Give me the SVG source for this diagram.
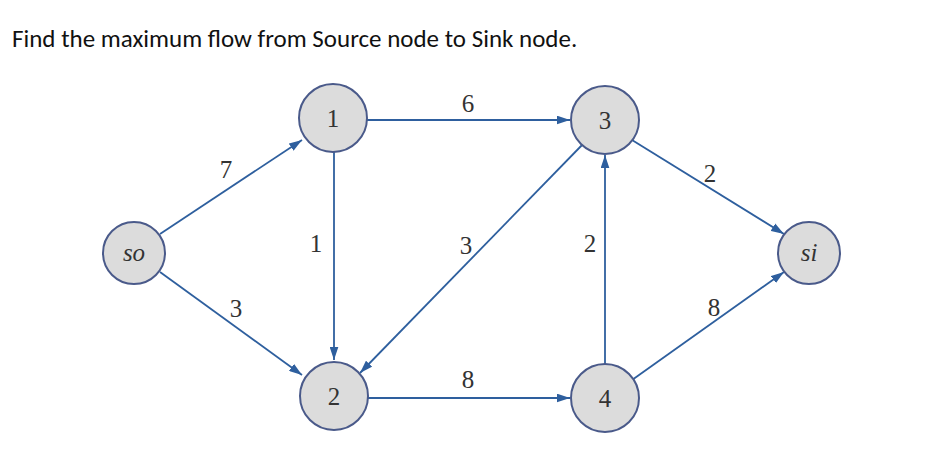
<svg xmlns="http://www.w3.org/2000/svg" width="938" height="452" viewBox="0 0 938 452">
<style>
.n{fill:#dcdcdc;stroke:#4a5a8a;stroke-width:2}
.e{stroke:#2e5f9e;stroke-width:1.8;fill:none;marker-end:url(#a)}
.t{font-family:"Liberation Serif",serif;font-size:25px;fill:#333;text-anchor:middle}
.i{font-style:italic}
</style>
<defs><marker id="a" viewBox="0 0 12 8" refX="12" refY="4" markerWidth="13" markerHeight="9" markerUnits="userSpaceOnUse" orient="auto"><path d="M0,0L12,4L0,8z" fill="#2e5f9e"/></marker></defs>
<rect width="938" height="452" fill="#fff"/>
<text x="12" y="47" font-family="Calibri,'Liberation Sans',sans-serif" font-size="25" fill="#111">Find the maximum flow from Source node to Sink node.</text>
<g id="edges">
<line class="e" x1="160" y1="234" x2="302" y2="140"/>
<line class="e" x1="160" y1="272" x2="302" y2="375"/>
<line class="e" x1="367" y1="120" x2="570" y2="120"/>
<line class="e" x1="334" y1="152" x2="334" y2="360"/>
<line class="e" x1="584" y1="143" x2="360" y2="373"/>
<line class="e" x1="368" y1="398" x2="570" y2="398"/>
<line class="e" x1="605" y1="365" x2="605" y2="155"/>
<line class="e" x1="632" y1="140" x2="784" y2="234"/>
<line class="e" x1="632" y1="380" x2="784" y2="272"/>
</g>
<g id="labels">
<text class="t" x="226" y="178">7</text>
<text class="t" x="236" y="317">3</text>
<text class="t" x="468" y="112">6</text>
<text class="t" x="316" y="252">1</text>
<text class="t" x="466" y="254">3</text>
<text class="t" x="468" y="388">8</text>
<text class="t" x="590" y="252">2</text>
<text class="t" x="710" y="182">2</text>
<text class="t" x="714" y="316">8</text>
</g>
<g id="so"><circle class="n" cx="134" cy="253" r="31"/><text class="t i" x="134" y="261">so</text></g>
<g id="n1"><circle class="n" cx="333" cy="118" r="34"/><text class="t" x="333" y="127">1</text></g>
<g id="n3"><circle class="n" cx="605" cy="120" r="34"/><text class="t" x="605" y="129">3</text></g>
<g id="n2"><circle class="n" cx="334" cy="396" r="34"/><text class="t" x="334" y="405">2</text></g>
<g id="n4"><circle class="n" cx="605" cy="398" r="34"/><text class="t" x="605" y="407">4</text></g>
<g id="si"><circle class="n" cx="809" cy="253" r="31"/><text class="t i" x="809" y="261">si</text></g>
</svg>
